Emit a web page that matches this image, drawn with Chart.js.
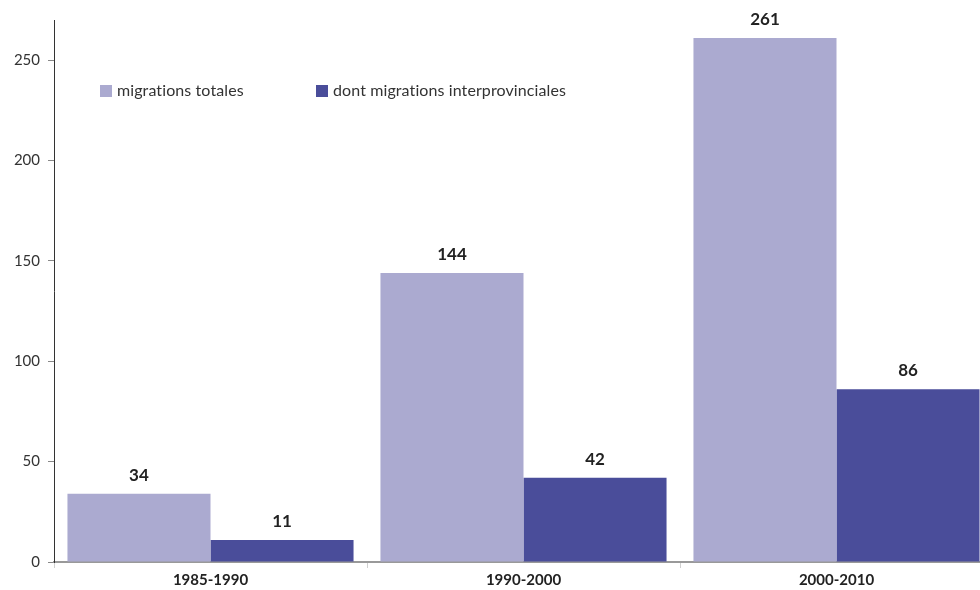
<!DOCTYPE html>
<html>
<head>
<meta charset="utf-8">
<script src="https://cdn.jsdelivr.net/npm/chart.js@4"></script>
<style>
  html, body { margin: 0; padding: 0; background: #fff; overflow: hidden; }
  #wrap { width: 1000px; height: 590px; }
</style>
</head>
<body>
<div id="wrap"><canvas id="migChart" width="1000" height="590"></canvas></div>
<script>
const periods = ['1985-1990', '1990-2000', '2000-2010'];
const totalMigrations = [34, 144, 261];
const interprovMigrations = [11, 42, 86];
const yTicks = [0, 50, 100, 150, 200, 250];

const lightColor = '#abaad0';
const darkColor = '#4a4d9a';
const fontFamily = 'Lato, "Open Sans", sans-serif';

// value labels above each bar + legend inside the plot
const labelsPlugin = {
    id: 'barLabels',
    afterDatasetsDraw(chart) {
        const ctx = chart.ctx;
        ctx.save();
        ctx.font = 'bold 17px ' + fontFamily;
        ctx.fillStyle = '#222';
        ctx.textAlign = 'center';
        ctx.textBaseline = 'bottom';
        chart.data.datasets.forEach((ds, i) => {
            chart.getDatasetMeta(i).data.forEach((bar, j) => {
                ctx.fillText(ds.data[j], bar.x, bar.y - 10);
            });
        });

        // legend (slight letter spacing avoids the "ti" ligature)
        ctx.font = '16px ' + fontFamily;
        if ('letterSpacing' in ctx) ctx.letterSpacing = '0.1px';
        ctx.textAlign = 'left';
        ctx.textBaseline = 'middle';
        const legendX = [100, 316];
        chart.data.datasets.forEach((ds, i) => {
            ctx.fillStyle = ds.backgroundColor;
            ctx.fillRect(legendX[i], 85, 12, 12);
            ctx.fillStyle = '#333';
            ctx.fillText(ds.label, legendX[i] + 17, 91);
        });
        ctx.restore();
    }
};

const ctx = document.getElementById('migChart').getContext('2d');
window.myChart = new Chart(ctx, {
    type: 'bar',
    data: {
        labels: periods,
        datasets: [
            { label: 'migrations totales', data: totalMigrations, backgroundColor: lightColor },
            { label: 'dont migrations interprovinciales', data: interprovMigrations, backgroundColor: darkColor }
        ]
    },
    options: {
        responsive: false,
        animation: false,
        layout: { padding: { top: 20, right: 7, left: 0, bottom: 0 } },
        datasets: { bar: { barPercentage: 1, categoryPercentage: 0.914 } },
        plugins: { legend: { display: false }, tooltip: { enabled: false } },
        scales: {
            x: {
                grid: { drawOnChartArea: false, offset: true, tickLength: 6, color: '#d0d0d0' },
                border: { color: '#999', width: 2 },
                ticks: { color: '#222', font: { family: fontFamily, size: 15, weight: 'bold' }, padding: 3 },
                afterFit: s => { s.height = 28; }
            },
            y: {
                min: 0,
                max: 270,
                afterBuildTicks: s => { s.ticks = yTicks.map(v => ({ value: v })); },
                grid: { drawOnChartArea: false, tickLength: 6, color: '#888' },
                border: { color: '#333', width: 1 },
                ticks: { color: '#333', font: { family: fontFamily, size: 15 }, padding: 8 },
                afterFit: s => { s.width = 54; }
            }
        }
    },
    plugins: [labelsPlugin]
});
</script>
</body>
</html>
